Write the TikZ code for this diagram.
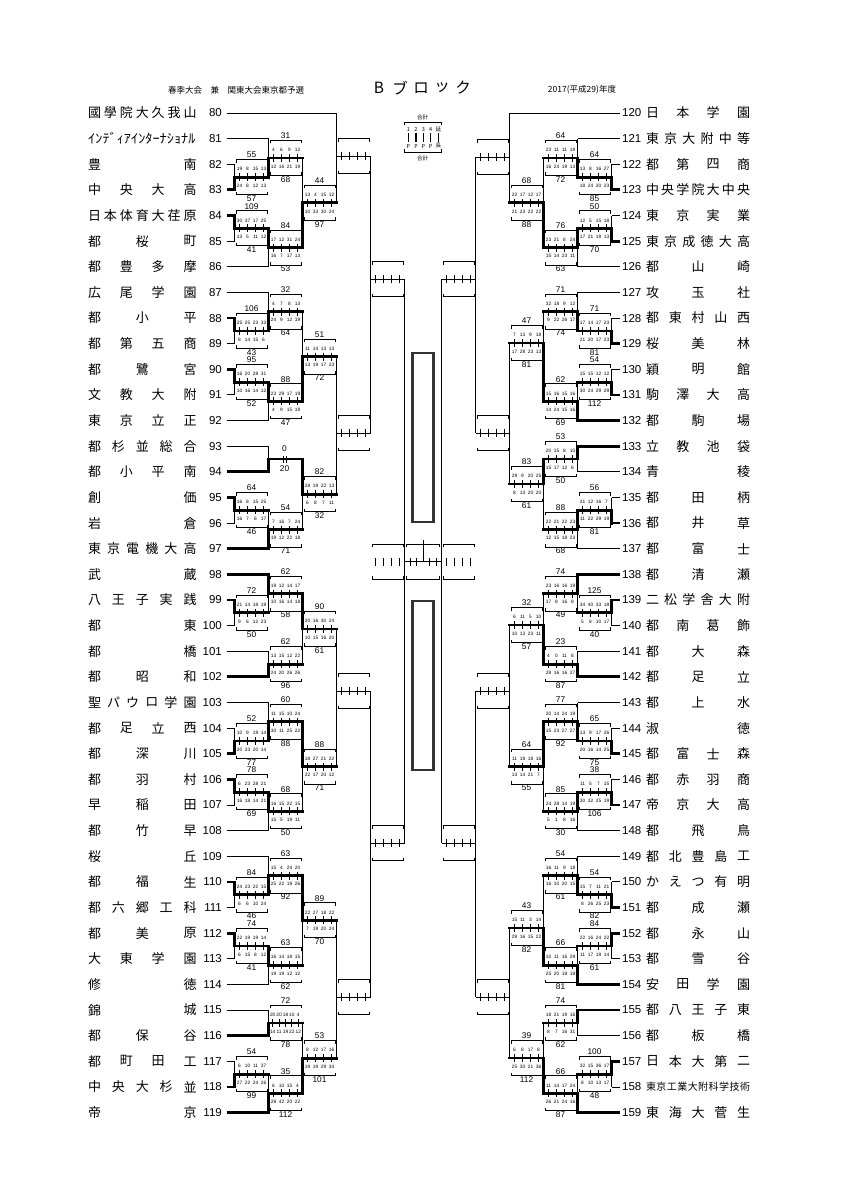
\documentclass[tikz,border=0pt]{standalone}
\usepackage{fontspec}
\setmainfont{Liberation Sans}
\newfontfamily\jp{Noto Sans CJK JP}
\usepackage{graphicx}
\newcount\nodeid
\tikzset{
 autoname/.code={\global\advance\nodeid by 1\relax\edef\tmpname{n\the\nodeid}\pgfkeysalso{/tikz/name/.expand once=\tmpname}},
 ln/.style={line width=0.9pt},
 thk/.style={line width=2.8pt, line cap=rect},
 tk/.style={line width=0.9pt},
 num/.style={font=\fontsize{11.5}{11.5}\selectfont, inner sep=0pt},
 jn/.style={font=\jp\fontsize{13}{13}\selectfont, inner sep=0pt},
 tot/.style={font=\fontsize{8.3}{8.3}\selectfont, inner sep=0pt},
 qs/.style={font=\fontsize{4.8}{4.8}\selectfont, inner sep=0pt},
 lg/.style={font=\jp\fontsize{5.5}{5.5}\selectfont, inner sep=0pt},
 rectc/.style={line width=2.7pt, draw=black!80},
}
% match: #1 xv, #2 side, #3 ytop, #4 ybot, #5 yc, #6 winner(0/1/2), #7 periods, #8 top list, #9 bottom list
\newcommand\mt[9]{%
 \pgfmathsetmacro\xl{(#2>0)?#1:#1-34}%
 \pgfmathsetmacro\xr{#1+34*#2}%
 \draw[ln] (#1,#3) -- (#1,#4);
 \ifcase#6\relax \or \draw[thk] (#1,#3) -- (#1,#5); \or \draw[thk] (#1,#4) -- (#1,#5); \fi
 \ifnum#6=0 \draw[ln] (#1,#5) -- (\xr,#5); \else \draw[thk] (#1,#5) -- (\xr,#5); \fi
 \draw[ln] (\xl+1.5,#5-14.5) -- (\xl+1.5,#5-17.5) -- (\xl+32.5,#5-17.5) -- (\xl+32.5,#5-14.5);
 \draw[ln] (\xl+1.5,#5+14.5) -- (\xl+1.5,#5+17.5) -- (\xl+32.5,#5+17.5) -- (\xl+32.5,#5+14.5);
 \foreach \j in {1,...,#7} \draw[tk] ({\xl+1+32/#7*(\j-0.5)},#5-4) -- ++(0,8);
 \if\relax\detokenize{#8}\relax\else
 \foreach \vv [count=\i] in {#8}{\ifnum\i=1 \node[tot] at (\xl+17,#5-22.2) {\vv};\else \node[qs] at ({\xl+1+32/#7*(\i-1.5)},#5-8) {\vv};\fi}
 \foreach \vv [count=\i] in {#9}{\ifnum\i=1 \node[tot] at (\xl+17,#5+21.4) {\vv};\else \node[qs] at ({\xl+1+32/#7*(\i-1.5)},#5+8.7) {\vv};\fi}
 \fi
}
% forfeit: #1 xv, #2 ytop, #3 ybot, #4 yc, #5 top score, #6 bottom score
\newcommand\ffm[6]{%
 \draw[ln] (#1,#2) -- (#1,#3);
 \draw[thk] (#1,#3) -- (#1,#4) -- (#1+34,#4);
 \draw[tk] (#1+14.8,#4-3.5) -- ++(0,7);
 \draw[tk] (#1+17.5,#4-3.5) -- ++(0,7);
 \node[tot] at (#1+16,#4-10.7) {#5};
 \node[tot] at (#1+16,#4+9.5) {#6};
}
% teams: #1 k, #2 xend, #3 thick, #4 n chars, #5 chars
\newcommand\tmL[5]{%
 \pgfmathsetmacro\ty{113+25.63*#1}%
 \pgfmathtruncatemacro\tn{80+#1}%
 \pgfmathsetmacro\lw{#3==1?2.8:0.9}%
 \draw[line width=\lw pt] (226.5,\ty) -- (#2,\ty);
 \node[num,anchor=east] at (222,\ty) {\tn};
 \ifnum#4>1 \foreach \ch [count=\i] in {#5}{\node[jn] at ({94.5+95.5*(\i-1)/(#4-1)},\ty) {\ch};}\fi
}
\newcommand\tmR[5]{%
 \pgfmathsetmacro\ty{113+25.63*#1}%
 \pgfmathtruncatemacro\tn{120+#1}%
 \pgfmathsetmacro\lw{#3==1?2.8:0.9}%
 \draw[line width=\lw pt] (619.5,\ty) -- (#2,\ty);
 \node[num,anchor=west] at (622,\ty) {\tn};
 \ifnum#4>1 \foreach \ch [count=\i] in {#5}{\node[jn] at ({652.5+91*(\i-1)/(#4-1)},\ty) {\ch};}\fi
}
\begin{document}
\begin{tikzpicture}[x=1pt,y=-1pt,every node/.append style={autoname}]
\fill[white] (0,0) rectangle (849,1200);
\useasboundingbox (0,0) rectangle (849,1200);

% header
\node[font=\jp\fontsize{8.5}{8.5}\selectfont, inner sep=0pt] (hdl) at (236,90) {春季大会　兼　関東大会東京都予選};
\foreach \ch/\x in {B/379,ブ/400,ロ/421,ッ/442,ク/463} \node[font=\jp\fontsize{15.5}{15.5}\selectfont, inner sep=0pt] at (\x,88) {\ch};
\node[font=\jp\fontsize{8.5}{8.5}\selectfont, inner sep=0pt] (hdr) at (582,90) {2017(平成29)年度};

% legend
\node[lg] (lgt) at (422.7,117) {合計};
\draw[ln] (404,125) -- (404,122) -- (441.5,122) -- (441.5,125);
\foreach \x/\a/\b in {408.3/1/P, 416/2/P, 423.3/3/P, 430.7/4/P, 438.3/延/長} {\node[lg] at (\x,129.3) {\a}; \draw[line width=1.3pt] (\x,133) -- (\x,142); \node[lg] at (\x,146) {\b};}
\draw[ln] (404,149) -- (404,152) -- (441.5,152) -- (441.5,149);
\node[lg] (lgb) at (422.7,158.3) {合計};

% left teams
\tmL{0}{336.5}{0}{7}{國,學,院,大,久,我,山}
\tmL{1}{268.5}{0}{0}{}
\node[jn,anchor=west] (t81) at (88,138.6) {\scalebox{1.1}[1]{ｲﾝﾃﾞｨｱｲﾝﾀｰﾅｼｮﾅﾙ}};
\tmL{2}{234.5}{0}{2}{豊,南}
\tmL{3}{234.5}{1}{4}{中,央,大,高}
\tmL{4}{234.5}{1}{7}{日,本,体,育,大,荏,原}
\tmL{5}{234.5}{0}{3}{都,桜,町}
\tmL{6}{268.5}{0}{4}{都,豊,多,摩}
\tmL{7}{268.5}{0}{4}{広,尾,学,園}
\tmL{8}{234.5}{1}{3}{都,小,平}
\tmL{9}{234.5}{0}{4}{都,第,五,商}
\tmL{10}{234.5}{1}{3}{都,鷺,宮}
\tmL{11}{234.5}{0}{4}{文,教,大,附}
\tmL{12}{268.5}{0}{4}{東,京,立,正}
\tmL{13}{268.5}{0}{5}{都,杉,並,総,合}
\tmL{14}{268.5}{1}{4}{都,小,平,南}
\tmL{15}{234.5}{1}{2}{創,価}
\tmL{16}{234.5}{0}{2}{岩,倉}
\tmL{17}{268.5}{1}{6}{東,京,電,機,大,高}
\tmL{18}{268.5}{1}{2}{武,蔵}
\tmL{19}{234.5}{1}{5}{八,王,子,実,践}
\tmL{20}{234.5}{0}{2}{都,東}
\tmL{21}{268.5}{0}{2}{都,橋}
\tmL{22}{268.5}{1}{3}{都,昭,和}
\tmL{23}{268.5}{0}{6}{聖,パ,ウ,ロ,学,園}
\tmL{24}{234.5}{0}{4}{都,足,立,西}
\tmL{25}{234.5}{1}{3}{都,深,川}
\tmL{26}{234.5}{1}{3}{都,羽,村}
\tmL{27}{234.5}{0}{3}{早,稲,田}
\tmL{28}{268.5}{0}{3}{都,竹,早}
\tmL{29}{268.5}{0}{2}{桜,丘}
\tmL{30}{234.5}{1}{3}{都,福,生}
\tmL{31}{234.5}{0}{5}{都,六,郷,工,科}
\tmL{32}{234.5}{1}{3}{都,美,原}
\tmL{33}{234.5}{0}{4}{大,東,学,園}
\tmL{34}{268.5}{0}{2}{修,徳}
\tmL{35}{268.5}{0}{2}{錦,城}
\tmL{36}{268.5}{1}{3}{都,保,谷}
\tmL{37}{234.5}{0}{4}{都,町,田,工}
\tmL{38}{234.5}{1}{5}{中,央,大,杉,並}
\tmL{39}{268.5}{1}{2}{帝,京}

% right teams
\tmR{0}{509.5}{0}{4}{日,本,学,園}
\tmR{1}{577.5}{0}{6}{東,京,大,附,中,等}
\tmR{2}{611.5}{0}{4}{都,第,四,商}
\tmR{3}{611.5}{1}{7}{中,央,学,院,大,中,央}
\tmR{4}{611.5}{0}{4}{東,京,実,業}
\tmR{5}{611.5}{1}{6}{東,京,成,徳,大,高}
\tmR{6}{577.5}{0}{3}{都,山,崎}
\tmR{7}{577.5}{0}{3}{攻,玉,社}
\tmR{8}{611.5}{0}{5}{都,東,村,山,西}
\tmR{9}{611.5}{1}{3}{桜,美,林}
\tmR{10}{611.5}{0}{3}{穎,明,館}
\tmR{11}{611.5}{1}{4}{駒,澤,大,高}
\tmR{12}{577.5}{1}{3}{都,駒,場}
\tmR{13}{577.5}{1}{4}{立,教,池,袋}
\tmR{14}{577.5}{0}{2}{青,稜}
\tmR{15}{611.5}{0}{3}{都,田,柄}
\tmR{16}{611.5}{1}{3}{都,井,草}
\tmR{17}{577.5}{0}{3}{都,富,士}
\tmR{18}{577.5}{1}{3}{都,清,瀬}
\tmR{19}{611.5}{1}{6}{二,松,学,舎,大,附}
\tmR{20}{611.5}{0}{4}{都,南,葛,飾}
\tmR{21}{577.5}{0}{3}{都,大,森}
\tmR{22}{577.5}{1}{3}{都,足,立}
\tmR{23}{577.5}{0}{3}{都,上,水}
\tmR{24}{611.5}{0}{2}{淑,徳}
\tmR{25}{611.5}{1}{4}{都,富,士,森}
\tmR{26}{611.5}{0}{4}{都,赤,羽,商}
\tmR{27}{611.5}{1}{4}{帝,京,大,高}
\tmR{28}{577.5}{0}{3}{都,飛,鳥}
\tmR{29}{577.5}{0}{5}{都,北,豊,島,工}
\tmR{30}{611.5}{0}{5}{か,え,つ,有,明}
\tmR{31}{611.5}{1}{3}{都,成,瀬}
\tmR{32}{611.5}{1}{3}{都,永,山}
\tmR{33}{611.5}{0}{3}{都,雪,谷}
\tmR{34}{577.5}{1}{4}{安,田,学,園}
\tmR{35}{577.5}{1}{5}{都,八,王,子,東}
\tmR{36}{577.5}{0}{3}{都,板,橋}
\tmR{37}{611.5}{1}{5}{日,本,大,第,二}
\tmR{38}{611.5}{0}{0}{}
\foreach \ch [count=\i] in {東,京,工,業,大,附,科,学,技,術} \node[font=\jp\fontsize{10}{10}\selectfont, inner sep=0pt] at ({651+94*(\i-1)/9},1086.9) {\ch};
\tmR{39}{577.5}{1}{5}{東,海,大,菅,生}

% left matches
\mt{234.5}{1}{164.3}{189.9}{177.1}{2}{4}{55,19,8,15,13}{57,24,8,12,13}
\mt{268.5}{1}{138.6}{177.1}{157.9}{2}{4}{31,4,6,9,12}{68,12,16,21,19}
\mt{234.5}{1}{215.5}{241.2}{228.4}{1}{4}{109,30,37,17,25}{41,13,5,11,12}
\mt{268.5}{1}{228.4}{266.8}{247.6}{1}{4}{84,17,12,31,24}{53,16,7,17,13}
\mt{302.5}{1}{157.9}{247.6}{202.8}{2}{4}{44,13,4,15,12}{97,10,33,30,24}
\mt{336.5}{1}{113}{202.8}{156}{0}{4}{}{}
\mt{234.5}{1}{318.0}{343.7}{330.9}{1}{4}{106,25,25,23,33}{43,8,14,15,6}
\mt{268.5}{1}{292.4}{330.9}{311.6}{2}{4}{32,4,7,8,13}{64,24,9,12,19}
\mt{234.5}{1}{369.3}{394.9}{382.1}{1}{4}{95,16,20,28,31}{52,10,16,14,12}
\mt{268.5}{1}{382.1}{420.6}{401.4}{1}{4}{88,23,29,17,19}{47,4,9,15,19}
\mt{302.5}{1}{311.6}{401.4}{356.5}{2}{4}{51,11,14,13,13}{72,13,19,17,23}
\ffm{268.5}{446.2}{471.8}{459}{0}{20}
\mt{234.5}{1}{497.5}{523.1}{510.3}{1}{4}{64,16,8,15,25}{46,16,7,6,17}
\mt{268.5}{1}{510.3}{548.7}{529.5}{2}{4}{54,7,16,7,24}{71,19,12,22,18}
\mt{302.5}{1}{459}{529.5}{494.3}{1}{4}{82,28,19,22,13}{32,6,8,7,11}
\mt{336.5}{1}{356.5}{494.3}{433}{0}{4}{}{}
\mt{370.5}{1}{156}{433}{279}{0}{4}{}{}
\mt{234.5}{1}{600.0}{625.6}{612.8}{1}{4}{72,21,14,18,19}{50,9,6,12,23}
\mt{268.5}{1}{574.3}{612.8}{593.6}{1}{4}{62,19,12,14,17}{58,10,16,14,18}
\mt{268.5}{1}{651.2}{676.9}{664.1}{2}{4}{62,13,15,12,22}{96,24,20,26,26}
\mt{302.5}{1}{593.6}{664.1}{628.9}{1}{4}{90,20,16,30,24}{61,10,15,16,20}
\mt{234.5}{1}{728.1}{753.8}{741.0}{2}{4}{52,10,9,19,14}{77,20,23,20,14}
\mt{268.5}{1}{702.5}{741.0}{721.8}{2}{4}{60,11,15,10,24}{88,30,11,25,22}
\mt{234.5}{1}{779.4}{805.0}{792.2}{1}{4}{78,6,23,28,21}{69,16,18,14,21}
\mt{268.5}{1}{792.2}{830.6}{811.4}{1}{4}{68,16,15,22,15}{50,15,5,19,11}
\mt{302.5}{1}{721.8}{811.4}{766.6}{1}{4}{88,18,27,21,22}{71,22,17,20,12}
\mt{336.5}{1}{628.9}{766.6}{691}{0}{4}{}{}
\mt{234.5}{1}{881.9}{907.5}{894.7}{1}{4}{84,24,23,22,15}{46,6,6,10,24}
\mt{268.5}{1}{856.3}{894.7}{875.5}{2}{4}{63,15,4,24,20}{92,25,22,19,26}
\mt{234.5}{1}{933.2}{958.8}{946.0}{1}{4}{74,22,19,19,14}{41,6,15,8,12}
\mt{268.5}{1}{946.0}{984.4}{965.2}{1}{4}{63,16,14,18,15}{62,19,19,12,12}
\mt{302.5}{1}{875.5}{965.2}{920.4}{1}{4}{89,22,27,18,22}{70,7,19,20,24}
\mt{268.5}{1}{1010.1}{1035.7}{1022.9}{2}{5}{72,20,20,18,10,4}{78,14,11,19,22,12}
\mt{234.5}{1}{1061.3}{1086.9}{1074.1}{2}{4}{54,6,10,11,27}{99,27,22,24,26}
\mt{268.5}{1}{1074.1}{1112.6}{1093.4}{2}{4}{35,6,10,15,4}{112,28,42,20,22}
\mt{302.5}{1}{1022.9}{1093.4}{1058.1}{2}{4}{53,8,12,17,16}{101,19,19,29,34}
\mt{336.5}{1}{920.4}{1058.1}{997}{0}{4}{}{}
\mt{370.5}{1}{691}{997}{843}{0}{4}{}{}
\draw[ln] (404.5,279) -- (404.5,843);

% right matches
\mt{611.5}{-1}{164.3}{189.9}{177.1}{2}{4}{64,13,8,16,27}{85,18,24,20,23}
\mt{577.5}{-1}{138.6}{177.1}{157.9}{2}{4}{64,23,11,11,19}{72,16,24,19,13}
\mt{611.5}{-1}{215.5}{241.2}{228.4}{2}{4}{50,12,5,15,18}{70,17,21,19,13}
\mt{577.5}{-1}{228.4}{266.8}{247.6}{1}{4}{76,23,21,8,24}{63,15,14,23,11}
\mt{543.5}{-1}{157.9}{247.6}{202.8}{2}{4}{68,22,17,12,17}{88,21,23,22,22}
\mt{509.5}{-1}{113}{202.8}{157}{0}{4}{}{}
\mt{611.5}{-1}{318.0}{343.7}{330.9}{2}{4}{71,17,14,17,23}{81,21,20,17,23}
\mt{577.5}{-1}{292.4}{330.9}{311.6}{2}{4}{71,32,18,9,12}{74,9,22,26,17}
\mt{611.5}{-1}{369.3}{394.9}{382.1}{2}{4}{54,15,15,12,12}{112,30,24,29,29}
\mt{577.5}{-1}{382.1}{420.6}{401.4}{2}{4}{62,15,16,15,16}{69,14,24,15,16}
\mt{543.5}{-1}{311.6}{401.4}{343}{2}{4}{47,7,13,9,18}{81,17,28,23,13}
\mt{577.5}{-1}{446.2}{471.8}{459}{1}{4}{53,20,15,8,10}{50,15,17,12,6}
\mt{611.5}{-1}{497.5}{523.1}{510.3}{2}{4}{56,21,12,16,7}{81,11,22,29,19}
\mt{577.5}{-1}{510.3}{548.7}{529.5}{1}{4}{88,22,21,22,23}{68,12,15,18,23}
\mt{543.5}{-1}{459}{529.5}{484}{1}{4}{83,29,9,20,25}{61,8,13,20,20}
\mt{509.5}{-1}{343}{484}{433}{0}{4}{}{}
\mt{475.5}{-1}{157}{433}{279}{0}{4}{}{}
\mt{611.5}{-1}{600.0}{625.6}{612.8}{1}{4}{125,34,40,33,18}{40,5,8,10,17}
\mt{577.5}{-1}{574.3}{612.8}{593.6}{1}{4}{74,23,16,16,19}{49,17,8,16,8}
\mt{577.5}{-1}{651.2}{676.9}{664.1}{2}{4}{23,4,0,11,8}{87,28,16,16,27}
\mt{543.5}{-1}{593.6}{664.1}{625}{2}{4}{32,6,11,5,10}{57,10,13,23,11}
\mt{611.5}{-1}{728.1}{753.8}{741.0}{2}{4}{65,13,9,17,26}{75,20,16,14,25}
\mt{577.5}{-1}{702.5}{741.0}{721.8}{2}{4}{77,20,14,24,19}{92,15,23,27,27}
\mt{611.5}{-1}{779.4}{805.0}{792.2}{2}{4}{38,11,5,7,15}{106,30,32,25,19}
\mt{577.5}{-1}{792.2}{830.6}{811.4}{1}{4}{85,24,28,14,19}{30,5,1,8,16}
\mt{543.5}{-1}{721.8}{811.4}{766.6}{1}{4}{64,11,19,18,16}{55,13,14,21,7}
\mt{509.5}{-1}{625}{766.6}{691}{0}{4}{}{}
\mt{611.5}{-1}{881.9}{907.5}{894.7}{2}{4}{54,15,7,11,21}{82,8,26,25,23}
\mt{577.5}{-1}{856.3}{894.7}{875.5}{2}{4}{54,16,11,9,18}{61,16,10,20,15}
\mt{611.5}{-1}{933.2}{958.8}{946.0}{1}{4}{84,22,16,24,22}{61,11,17,19,14}
\mt{577.5}{-1}{946.0}{984.4}{965.2}{2}{4}{66,10,11,16,29}{81,25,20,18,18}
\mt{543.5}{-1}{875.5}{965.2}{928}{2}{4}{43,15,11,3,14}{82,29,16,15,22}
\mt{577.5}{-1}{1010.1}{1035.7}{1022.9}{1}{4}{74,18,21,19,16}{62,8,7,16,31}
\mt{611.5}{-1}{1061.3}{1086.9}{1074.1}{1}{4}{100,32,15,36,17}{48,8,10,13,17}
\mt{577.5}{-1}{1074.1}{1112.6}{1093.4}{2}{4}{66,11,14,17,24}{87,26,21,24,16}
\mt{543.5}{-1}{1022.9}{1093.4}{1058}{2}{4}{39,6,8,17,8}{112,25,30,21,36}
\mt{509.5}{-1}{928}{1058}{997}{0}{4}{}{}
\mt{475.5}{-1}{691}{997}{843}{0}{4}{}{}
\draw[ln] (441.5,279) -- (441.5,843);

% centre
\draw[rectc] (412.4,353) rectangle (433.6,522);
\draw[rectc] (412.4,601) rectangle (433.6,770);
% left semi box
\draw[ln] (372,547) -- (372,544) -- (403,544) -- (403,547);
\draw[ln] (372,576) -- (372,579) -- (403,579) -- (403,576);
\foreach \j in {1,...,4} \draw[tk] ({371.5+8*(\j-0.5)},557.5) -- ++(0,8);
% right semi box
\draw[ln] (443,547) -- (443,544) -- (474,544) -- (474,547);
\draw[ln] (443,576) -- (443,579) -- (474,579) -- (474,576);
\foreach \j in {1,...,4} \draw[tk] ({442.5+8*(\j-0.5)},557.5) -- ++(0,8);
% final
\draw[ln] (406,547) -- (406,544) -- (439.5,544) -- (439.5,547);
\draw[ln] (406,576) -- (406,579) -- (439.5,579) -- (439.5,576);
\draw[ln] (404.5,561.5) -- (441.5,561.5);
\foreach \x in {410,416.5,429.5,436} \draw[tk] (\x,557.5) -- ++(0,8);
\draw[ln] (423,540) -- (423,561.5);
\end{tikzpicture}
\end{document}
